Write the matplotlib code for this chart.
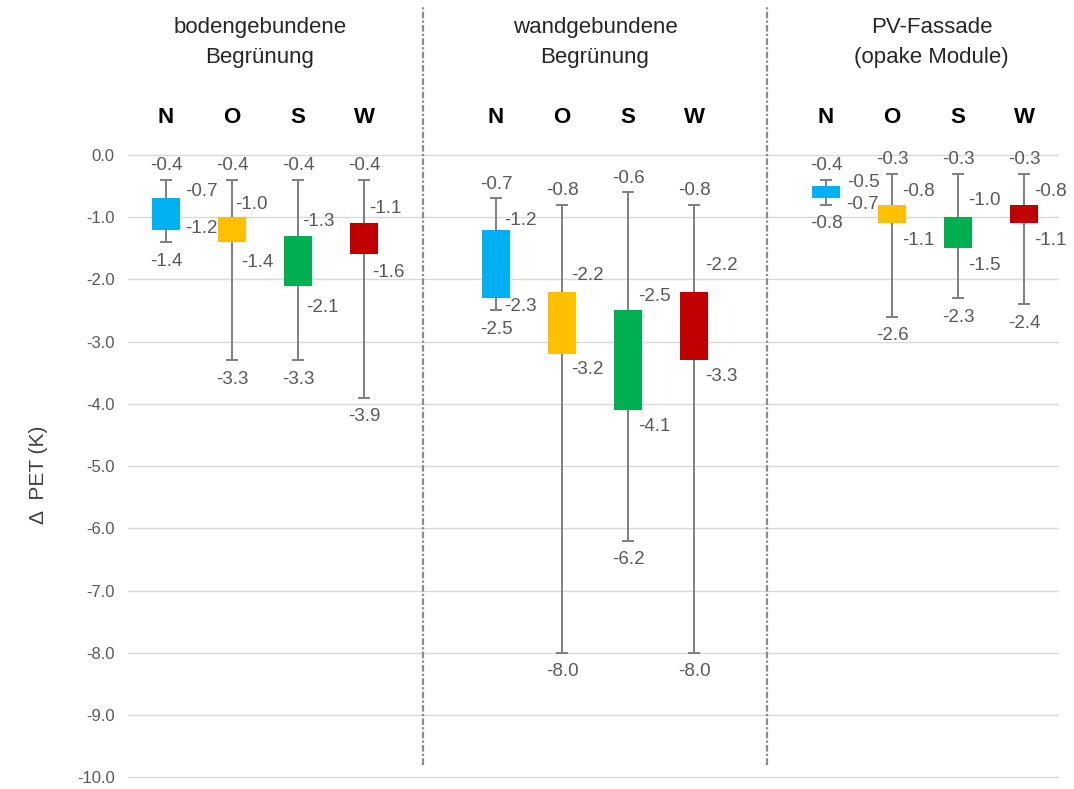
import numpy as np
import matplotlib.pyplot as plt

plt.rcParams['font.family'] = ['Liberation Sans', 'DejaVu Sans']

groups = ['bodengebundene\nBegrünung', 'wandgebundene\nBegrünung', 'PV-Fassade\n(opake Module)']
directions = ['N', 'O', 'S', 'W']

max_vals = [-0.4, -0.4, -0.4, -0.4, -0.7, -0.8, -0.6, -0.8, -0.4, -0.3, -0.3, -0.3]
box_top  = [-0.7, -1.0, -1.3, -1.1, -1.2, -2.2, -2.5, -2.2, -0.5, -0.8, -1.0, -0.8]
box_bot  = [-1.2, -1.4, -2.1, -1.6, -2.3, -3.2, -4.1, -3.3, -0.7, -1.1, -1.5, -1.1]
min_vals = [-1.4, -3.3, -3.3, -3.9, -2.5, -8.0, -6.2, -8.0, -0.8, -2.6, -2.3, -2.4]

colors = ['#00B0F0', '#FFC000', '#00B050', '#C00000']
txt_col = '#595959'

# x positions: 4 boxes per group, one empty slot between groups
x = np.array([0, 1, 2, 3, 5, 6, 7, 8, 10, 11, 12, 13], dtype=float)
head_x = [1.42, 6.5, 11.6]

# label offsets in pixels (dx, dy) for box top / bottom labels
top_off = [(19, 7), (3, 13), (4, 14), (5, 15), (8, 9), (9, 16), (10, 14), (11, 26),
           (21, 4), (10, 13), (10, 17), (10, 13)]
bot_off = [(19, 1), (9, -20), (8, -22), (8, -18), (8, -8), (9, -15), (10, -16), (11, -16),
           (20, -6), (10, -17), (10, -17), (10, -17)]

fig = plt.figure(figsize=(10.74, 7.89), dpi=100)
ax = fig.add_axes([128 / 1074, 0, (1059 - 128) / 1074, 1])

ax.set_xlim(-0.576, 13.53)
ax.set_ylim(-10.19, 2.49)

for v in range(0, -11, -1):
    ax.axhline(v, color='#d9d9d9', lw=1, zorder=0)

ax.vlines([3.9, 9.1], -9.8, 2.37, colors='#8c8c8c', lw=1.6,
          linestyles=(0, (3, 1, 1, 1)), zorder=1)

for i in range(len(x)):
    c = colors[i % 4]
    ax.vlines(x[i], min_vals[i], max_vals[i], colors='#7f7f7f', lw=1.4, zorder=2)
    ax.hlines([min_vals[i], max_vals[i]], x[i] - 0.09, x[i] + 0.09, colors='#7f7f7f', lw=1.4, zorder=2)
    ax.bar(x[i], box_top[i] - box_bot[i], bottom=box_bot[i], width=0.42, color=c, zorder=3)

    ax.annotate(f'{max_vals[i]:.1f}', (x[i], max_vals[i]), xytext=(0, 14), textcoords='offset pixels',
                ha='center', va='center', fontsize=13.5, color=txt_col)
    ax.annotate(f'{min_vals[i]:.1f}', (x[i], min_vals[i]), xytext=(0, -19), textcoords='offset pixels',
                ha='center', va='center', fontsize=13.5, color=txt_col)
    ax.annotate(f'{box_top[i]:.1f}', (x[i], box_top[i]), xytext=top_off[i], textcoords='offset pixels',
                ha='left', va='center', fontsize=13.5, color=txt_col)
    ax.annotate(f'{box_bot[i]:.1f}', (x[i], box_bot[i]), xytext=bot_off[i], textcoords='offset pixels',
                ha='left', va='center', fontsize=13.5, color=txt_col)
    ax.text(x[i], 0.595, directions[i % 4], ha='center', va='center', fontsize=16,
            fontweight='bold', color='black')

for g, name in enumerate(groups):
    line1, line2 = name.split('\n')
    ax.text(head_x[g], (155 - 28) / 62.2, line1, ha='center', va='center', fontsize=16,
            color='#262626')
    ax.text(head_x[g], (155 - 58) / 62.2, line2, ha='center', va='center', fontsize=16,
            color='#262626')

ax.set_yticks(range(0, -11, -1))
ax.set_yticklabels([f'{v:.1f}' for v in range(0, -11, -1)], fontsize=12, color=txt_col)
ax.tick_params(axis='y', length=0, pad=9.5)
ax.set_xticks([])
for s in ax.spines.values():
    s.set_visible(False)

fig.text(38 / 1074, 1 - 475 / 789, 'Δ  PET (K)', rotation=90, ha='center', va='center',
         fontsize=15, color='#404040')

fig.savefig('out.png', dpi=100)
